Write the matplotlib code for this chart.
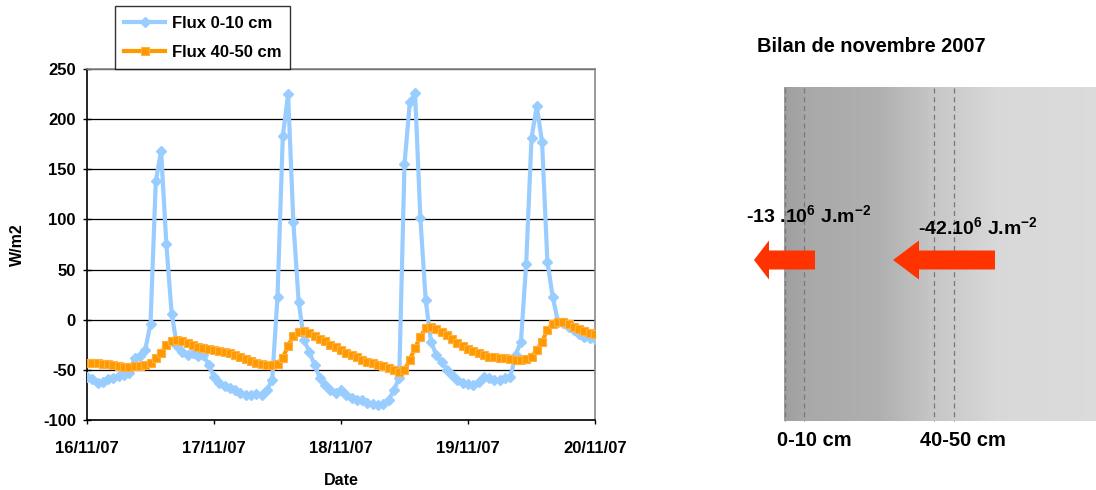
import numpy as np
import matplotlib
matplotlib.use("Agg")
import matplotlib.pyplot as plt
from matplotlib.patches import FancyArrow

plt.rcParams['font.family'] = ['Liberation Sans', 'DejaVu Sans']
plt.rcParams['mathtext.fontset'] = 'custom'
plt.rcParams['mathtext.rm'] = 'Liberation Sans'
plt.rcParams['mathtext.bf'] = 'Liberation Sans:bold'

# ---------------- data ----------------
hours = np.arange(0, 97)  # hourly samples from 16/11/07 00:00
flux_0_10 = [
    -57, -59, -63, -62, -59, -58, -56, -55, -53, -38, -36, -30, -4, 138, 168, 75,
    6, -26, -32, -35, -33, -36, -35, -45, -57, -63, -66, -68, -70, -73, -75, -75,
    -74, -75, -70, -60, 23, 183, 225, 97, 18, -20, -32, -45, -58, -65, -70, -73,
    -70, -75, -78, -80, -80, -83, -84, -85, -84, -80, -70, -58, 155, 217, 226, 101,
    20, -22, -35, -42, -50, -55, -60, -63, -64, -65, -62, -57, -58, -60, -60, -58,
    -57, -35, -22, 56, 181, 213, 177, 58, 23, -2, -3, -7, -10, -14, -17, -18, -19]
flux_40_50 = [
    -43, -43, -43, -44, -44, -45, -46, -47, -47, -46, -46, -45, -43, -38, -33, -25,
    -21, -20, -21, -23, -25, -27, -28, -29, -30, -31, -32, -33, -35, -37, -39, -41,
    -43, -44, -45, -45, -44, -38, -26, -16, -12, -11, -13, -16, -19, -21, -25, -27,
    -30, -33, -35, -37, -40, -42, -43, -45, -46, -48, -50, -52, -50, -40, -28, -17,
    -8, -7, -9, -12, -15, -19, -23, -26, -29, -31, -33, -35, -37, -37, -38, -38,
    -39, -40, -40, -39, -37, -30, -22, -10, -4, -2, -2, -4, -7, -9, -11, -13, -14]
date_ticks = [0, 24, 48, 72, 96]
date_labels = ["16/11/07", "17/11/07", "18/11/07", "19/11/07", "20/11/07"]
y_ticks = [-100, -50, 0, 50, 100, 150, 200, 250]
series_names = ["Flux 0-10 cm", "Flux 40-50 cm"]
bilan_title = "Bilan de novembre 2007"
bilan_labels = [r"-13 .10$^{\mathbf{6}}$ J.m$^{\mathbf{-2}}$",
                r"-42.10$^{\mathbf{6}}$ J.m$^{\mathbf{-2}}$"]
layer_labels = ["0-10 cm", "40-50 cm"]

W, H = 1096, 490
fig = plt.figure(figsize=(W / 100, H / 100), dpi=100)
fig.patch.set_facecolor('white')

# ---------------- left chart ----------------
ax = fig.add_axes([87 / W, 1 - 420 / H, 508 / W, 351 / H])
blue = '#99CCFF'
orange = '#FF9900'
ax.plot(hours, flux_0_10, color=blue, lw=3, marker='D', ms=5.5,
        mfc=blue, mec=blue, label=series_names[0], zorder=3)
ax.plot(hours, flux_40_50, color=orange, lw=3, marker='s', ms=5.3,
        mfc=orange, mec='#FFB040', mew=0.8, label=series_names[1], zorder=4)

ax.set_xlim(0, 96)
ax.set_ylim(-100, 250)
ax.set_yticks(y_ticks)
ax.set_yticklabels([str(v) for v in y_ticks], fontsize=12, fontweight='bold')
ax.set_xticks(date_ticks)
ax.set_xticklabels(date_labels, fontsize=12, fontweight='bold')
ax.yaxis.grid(True, color='black', lw=0.9)
ax.set_axisbelow(True)
ax.tick_params(axis='y', direction='inout', length=6, width=1, pad=5)
ax.tick_params(axis='x', direction='out', length=3, width=1, pad=12)
for s in ['left', 'bottom']:
    ax.spines[s].set_color('black')
    ax.spines[s].set_linewidth(1.2)
for s in ['top', 'right']:
    ax.spines[s].set_color('#888888')
    ax.spines[s].set_linewidth(1.2)

ax.set_ylabel("W/m2", fontsize=11.5, fontweight='bold')
ax.yaxis.set_label_coords(-62 / 508, 0.5)
ax.set_xlabel("Date", fontsize=11.5, fontweight='bold')
ax.xaxis.set_label_coords(0.5, -53 / 351)

leg = ax.legend(loc='lower left', bbox_to_anchor=(28 / 508, 1.0), borderaxespad=0,
                frameon=True, fancybox=False, edgecolor='black', fontsize=12,
                handlelength=2.45, handletextpad=0.4, labelspacing=0.85,
                borderpad=0.55)
leg.get_frame().set_linewidth(1.0)
for t in leg.get_texts():
    t.set_fontweight('bold')

# ---------------- right diagram ----------------
dax = fig.add_axes([0, 0, 1, 1])
dax.axis('off')
dax.patch.set_alpha(0)

gx = np.linspace(784, 1096, 400)
gray_stops_x = [784, 805, 880, 935, 1000, 1096]
gray_stops_v = [0.62, 0.66, 0.69, 0.78, 0.85, 0.86]
gv = np.interp(gx, gray_stops_x, gray_stops_v)
img = np.repeat(np.stack([gv, gv, gv], axis=-1)[None, :, :], 2, axis=0)
dax.imshow(img, extent=[784, 1096, 421, 88], aspect='auto', interpolation='bilinear', zorder=1)
dax.set_xlim(0, W)
dax.set_ylim(H, 0)

for xd in [785, 804, 934, 954]:
    dax.plot([xd, xd], [88, 421], color='#777777', lw=0.9, ls=(0, (4, 3)), zorder=2)

red = '#FF3300'
dax.add_patch(FancyArrow(815, 260, -61, 0, width=19, head_width=39, head_length=15,
                         length_includes_head=True, color=red, lw=0, zorder=3))
dax.add_patch(FancyArrow(995, 260, -102, 0, width=19, head_width=39, head_length=26,
                         length_includes_head=True, color=red, lw=0, zorder=3))

dax.text(757, 46, bilan_title, fontsize=14.4, fontweight='bold', va='center', ha='left')
dax.text(746, 216, bilan_labels[0], fontsize=14, fontweight='bold', va='center', ha='left', zorder=4)
dax.text(918, 228, bilan_labels[1], fontsize=14, fontweight='bold', va='center', ha='left', zorder=4)
dax.text(777, 440, layer_labels[0], fontsize=14.5, fontweight='bold', va='center', ha='left')
dax.text(920, 440, layer_labels[1], fontsize=14.5, fontweight='bold', va='center', ha='left')

fig.savefig("out.png", dpi=100, facecolor='white')
